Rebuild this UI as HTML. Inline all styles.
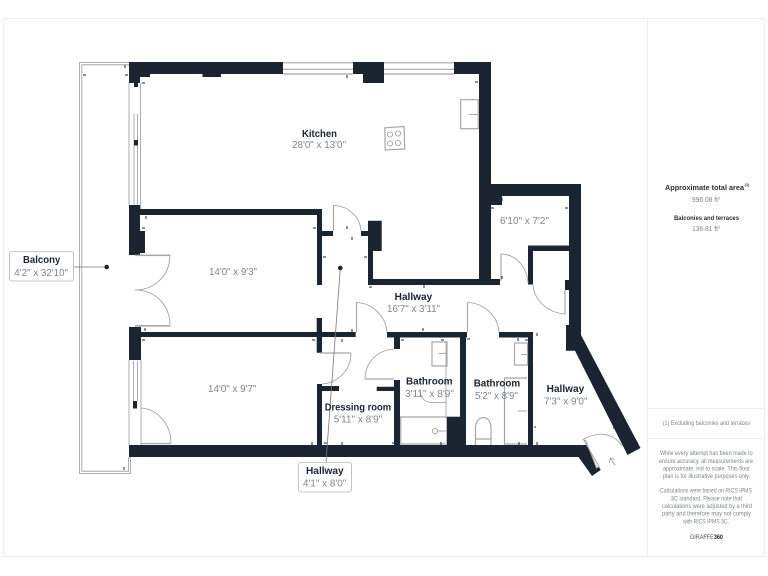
<!DOCTYPE html>
<html><head><meta charset="utf-8"><style>
html,body{margin:0;padding:0;background:#fff}
svg{display:block}
text{font-family:"Liberation Sans",sans-serif}
.n{font-weight:bold;font-size:10px;fill:#1b2431}
.d{font-size:10px;fill:#80858c}
.s{font-size:6px;fill:#80858c}
.w{fill:#1b2431}
.t{fill:none;stroke:#9a9a9a;stroke-width:.8}
.g{fill:none;stroke:#a8a8a8;stroke-width:1.2}
.m{fill:none;stroke:#1b2431;stroke-width:1}
</style></head><body>
<svg width="768" height="576" viewBox="0 0 768 576" xmlns="http://www.w3.org/2000/svg">
<rect x="3.5" y="18.5" width="761" height="538" fill="#fff" stroke="#eeeeee"/>
<path d="M647.5 18V557M647 408.5H765M647 438.5H765" stroke="#eeeeee" fill="none"/>

<!-- balcony -->
<path class="t" d="M129 62.5H79.5V473.5H130.5V457M129 64.8H81.8V471.2H128.5V457"/>
<!-- window lines -->
<path class="g" d="M283 62.8H353M283 69.3H353M283 74H353M384 62.8H454M384 69.3H454M384 74H454"/>
<path class="t" d="M129 83V205M140.5 83V209M134 114V205M137.5 114V205"/>
<rect x="134" y="140" width="4" height="5.5" class="w"/>
<path class="t" d="M129 360V445M141 360V445M133.5 361V401M137.5 361V401"/>
<rect x="133" y="401" width="4" height="7.5" class="w"/>

<!-- walls -->
<g class="w">
<path d="M129 62H283V74H221V77H202.5V74H150V77H140V83H138V87H134V83H129Z"/>
<path d="M353 62H384V83H363V74H353Z"/>
<path d="M454 62H491V184H581V335L640.5 448L627.5 455L575 350.7H566V325H569V196H502V205H491V285H479V74H454Z" fill-rule="evenodd"/>
<rect x="479" y="279" width="21" height="6"/>
<path d="M129 205H140V209H322V285H317V215H140V231H145V253H140V255H129Z"/>
<rect x="322" y="231" width="11" height="5"/>
<path d="M361 231H368V220.7H381.7V251H373V279H479V285H368V236H361Z"/>
<path d="M528 245.5H569V251H533V284.5H528Z"/>
<rect x="565" y="280" width="4" height="10"/>
<path d="M129 327H141V332H316.7V318H322V332H355.7V337H322V352.7H316.7V337H141V360H129Z"/>
<path d="M387 332H467V337.5H400V349H394V337.5H387Z"/>
<path d="M499 332H533V445H528V337.5H499Z"/>
<rect x="460" y="332" width="6" height="114"/>
<path d="M317 384H322V386H339V391H322V445H317Z"/>
<path d="M376.7 386.7H394V380H400V445H394V391H376.7Z"/>
<rect x="446.7" y="416.7" width="14" height="29"/>
<path d="M129 445H586.5L600.7 470L592 476L578.5 457H129Z"/>
</g>

<!-- doors -->
<path class="t" d="M135 255H170C170 275 155 290 135 290C155 290 170 305 170 325.5H135"/>
<path class="g" d="M135 255.5H170M135 326H170"/>
<path class="t" d="M141 408C158 409 171 425 171 443"/>
<path class="g" d="M141 443.5H171"/>
<path class="g" d="M333.5 231V205.5"/>
<path class="t" d="M333.5 205.5C348 206 360 216 361 231"/>
<path class="g" d="M356.5 332V302.5"/>
<path class="t" d="M356.5 302.5C372 303 386 316 387 332"/>
<path class="g" d="M320 353H351"/>
<path class="t" d="M351 353C351 370 338 383 322 384"/>
<path class="g" d="M365 379H394"/>
<path class="t" d="M365 379C365 362 378 350 394 349"/>
<path class="g" d="M467.5 332V302.5"/>
<path class="t" d="M467.5 302.5C484 303 498 316 499 332"/>
<path class="g" d="M501 281V254"/>
<path class="t" d="M501 254C515 254 527 266 528 283"/>
<path class="g" d="M565 290V314"/>
<path class="t" d="M533 285C534 300 548 313 565 314"/>
<path d="M583.5 439.5L599 466.5L596.5 468L586 441Z" fill="#fff" stroke="#a8a8a8" stroke-width="1"/>
<path class="t" d="M584 439C598 431 614 433 622 446"/>
<path class="t" d="M615 465L610 458M610 458L609.5 463M610 458L614.5 459.5"/>

<!-- kitchen fixtures -->
<rect x="460.7" y="99.7" width="17.5" height="29" class="g"/>
<path class="t" d="M469 114.5H478"/>
<path class="g" d="M384.8 127.8L404 126.5L404.8 149L385.2 150Z"/>
<g class="t"><circle cx="390" cy="134.5" r="2.6"/><circle cx="398" cy="133.5" r="2.6"/><circle cx="390" cy="143.5" r="2.6"/><circle cx="398" cy="143" r="2.6"/></g>
<!-- bath 1 -->
<rect x="432" y="342" width="15" height="24" class="g"/>
<path class="t" d="M439 353.5H447"/>
<path class="t" d="M446 341V418M446 402.5H431C423 402 420 396 420 389"/>
<path class="g" d="M400 417H446M400.8 417V444M400 444H446"/>
<circle cx="435" cy="431" r="2.6" class="t"/>
<path class="t" d="M438 431H446"/>
<!-- bath 2 -->
<rect x="514.5" y="343" width="13" height="22" class="g"/>
<path class="t" d="M521 354.5H527"/>
<path class="g" d="M527 378H504.5V444H527"/>
<path class="t" d="M518 411H527"/>
<path class="g" d="M475.5 445V428C475.5 414 491 414 491 428V445M475.5 439H491"/>

<!-- ticks -->
<g class="m">
<path d="M83 75H86M125 65V68M125 75H128M142 83H145M146 216V219M142 228H145M313 228H316M347 226V229M352 237V240M323 257H326M364 257H367M347 75V78M475 82H478M502 198V201M491 208H494M565 208H568M369 287H372M424 285V288M502 276V279M565 288H568M537 333V336M518 338V341M525 340H528M467 339H470M401 340H404M441 340H444M423 328V331"/>
<path d="M145 328V331M142 340H145M312 340H315M342 339V342M352 329V332M312 442V445M324 443H327M342 442V445M392 443H394M441 442V445M536 427H534M537 442V445M519 442V445M613 428H616M124 467V470"/>
</g>

<!-- leaders -->
<path d="M73.5 267H106.5" stroke="#777" stroke-width=".8" fill="none"/>
<circle cx="106.7" cy="267" r="2.3" class="w"/>
<path d="M340.3 268L326 462" stroke="#777" stroke-width=".8" fill="none"/>
<circle cx="340.3" cy="268" r="2.3" class="w"/>

<!-- room labels -->
<text class="n" x="302" y="137" textLength="35" lengthAdjust="spacingAndGlyphs">Kitchen</text>
<text class="d" x="292" y="148" textLength="54" lengthAdjust="spacingAndGlyphs">28'0" x 13'0"</text>
<text class="d" x="209" y="275" textLength="48" lengthAdjust="spacingAndGlyphs">14'0" x 9'3"</text>
<text class="d" x="208" y="392" textLength="48.5" lengthAdjust="spacingAndGlyphs">14'0" x 9'7"</text>
<text class="d" x="500" y="224" textLength="49" lengthAdjust="spacingAndGlyphs">6'10" x 7'2"</text>
<text class="n" x="394.7" y="300" textLength="37.5" lengthAdjust="spacingAndGlyphs">Hallway</text>
<text class="d" x="387" y="312" textLength="53" lengthAdjust="spacingAndGlyphs">16'7" x 3'11"</text>
<text class="n" x="406" y="384.7" textLength="46.5" lengthAdjust="spacingAndGlyphs">Bathroom</text>
<text class="d" x="405" y="397" textLength="49" lengthAdjust="spacingAndGlyphs">3'11" x 8'9"</text>
<text class="n" x="324.7" y="410.7" textLength="66.5" lengthAdjust="spacingAndGlyphs">Dressing room</text>
<text class="d" x="333.7" y="422.7" textLength="48.5" lengthAdjust="spacingAndGlyphs">5'11" x 8'9"</text>
<text class="n" x="473.7" y="386.7" textLength="46.5" lengthAdjust="spacingAndGlyphs">Bathroom</text>
<text class="d" x="475" y="399" textLength="43" lengthAdjust="spacingAndGlyphs">5'2" x 8'9"</text>
<text class="n" x="546.7" y="392" textLength="37.5" lengthAdjust="spacingAndGlyphs">Hallway</text>
<text class="d" x="544" y="404.7" textLength="43.5" lengthAdjust="spacingAndGlyphs">7'3" x 9'0"</text>

<!-- boxes -->
<rect x="9.5" y="251.5" width="64" height="29.5" rx="2.5" fill="#fff" stroke="#b5b5b5" stroke-width=".8"/>
<text class="n" x="23" y="263" textLength="37.3" lengthAdjust="spacingAndGlyphs">Balcony</text>
<text class="d" x="14.3" y="276" textLength="53.7" lengthAdjust="spacingAndGlyphs">4'2" x 32'10"</text>
<rect x="298.5" y="462.5" width="53" height="29.5" rx="2.5" fill="#fff" stroke="#b5b5b5" stroke-width=".8"/>
<text class="n" x="306" y="474" textLength="37.7" lengthAdjust="spacingAndGlyphs">Hallway</text>
<text class="d" x="303" y="486.7" textLength="43.3" lengthAdjust="spacingAndGlyphs">4'1" x 8'0"</text>

<!-- panel -->
<text x="665" y="190" font-size="7.5" font-weight="bold" fill="#2a3038" textLength="79" lengthAdjust="spacingAndGlyphs">Approximate total area</text>
<text x="744.5" y="186" font-size="4" font-weight="bold" fill="#2a3038">(1)</text>
<text class="s" x="692" y="202" style="font-size:7px" textLength="26" lengthAdjust="spacingAndGlyphs">996.08 ft</text>
<text x="718" y="199.5" font-size="4" fill="#80858c">2</text>
<text x="674" y="220" font-size="6.3" font-weight="bold" fill="#2a3038" textLength="65" lengthAdjust="spacingAndGlyphs">Balconies and terraces</text>
<text class="s" x="692" y="231" style="font-size:7px" textLength="26" lengthAdjust="spacingAndGlyphs">136.81 ft</text>
<text x="718" y="228.5" font-size="4" fill="#80858c">2</text>
<text class="s" x="662.7" y="425" textLength="87.3" lengthAdjust="spacingAndGlyphs">(1) Excluding balconies and terraces</text>
<g>
<text class="s" x="660" y="455" textLength="92.7" lengthAdjust="spacingAndGlyphs">While every attempt has been made to</text>
<text class="s" x="659" y="463" textLength="94" lengthAdjust="spacingAndGlyphs">ensure accuracy, all measurements are</text>
<text class="s" x="663" y="470.3" textLength="87" lengthAdjust="spacingAndGlyphs">approximate, not to scale. This floor</text>
<text class="s" x="663" y="478" textLength="87" lengthAdjust="spacingAndGlyphs">plan is for illustrative purposes only.</text>
<text class="s" x="660" y="492.7" textLength="92" lengthAdjust="spacingAndGlyphs">Calculations were based on RICS IPMS</text>
<text class="s" x="671" y="500.3" textLength="71" lengthAdjust="spacingAndGlyphs">3C standard. Please note that</text>
<text class="s" x="662" y="508" textLength="90" lengthAdjust="spacingAndGlyphs">calculations were adjusted by a third</text>
<text class="s" x="662" y="515.3" textLength="89" lengthAdjust="spacingAndGlyphs">party and therefore may not comply</text>
<text class="s" x="683" y="523.3" textLength="46" lengthAdjust="spacingAndGlyphs">with RICS IPMS 3C.</text>
</g>
<text x="690" y="539" font-size="6.2" fill="#4a5058" textLength="33" lengthAdjust="spacingAndGlyphs">GIRAFFE<tspan font-weight="bold" fill="#1b2431">360</tspan></text>
</svg>
</body></html>
